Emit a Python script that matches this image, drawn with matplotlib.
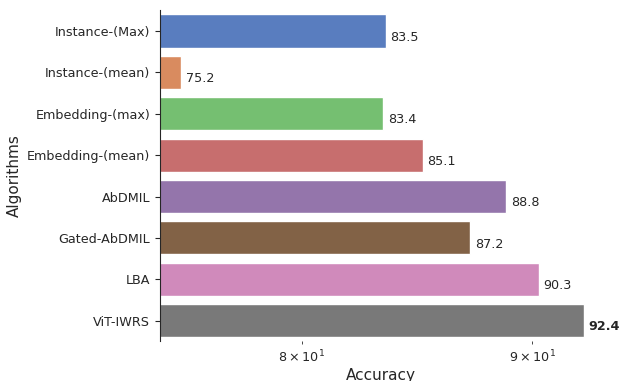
import matplotlib
matplotlib.use("Agg")
import matplotlib.pyplot as plt
import seaborn as sns

algorithms = ["Instance-(Max)", "Instance-(mean)", "Embedding-(max)", "Embedding-(mean)",
              "AbDMIL", "Gated-AbDMIL", "LBA", "ViT-IWRS"]
accuracy = [83.5, 75.2, 83.4, 85.1, 88.8, 87.2, 90.3, 92.4]

sns.set_style("ticks")
colors = [sns.desaturate(c, 0.75) for c in sns.color_palette("muted", len(algorithms))]

fig, ax = plt.subplots(figsize=(6.2, 3.81), dpi=100)
fig.subplots_adjust(left=0.258, right=0.97, bottom=0.104, top=0.973)

ax.barh(range(len(algorithms)), accuracy, height=0.8, color=colors,
        edgecolor="white", linewidth=1)
ax.set_xscale("log")
ax.set_xlim(74.4, 93.25)
ax.set_ylim(len(algorithms) - 0.5, -0.5)
ax.set_yticks(range(len(algorithms)))
ax.set_yticklabels(algorithms, fontsize=9.2, color="#262626")
ax.tick_params(axis="x", which="both", labelsize=9.2, colors="#262626")

# value labels next to each bar, best one in bold
best = max(accuracy)
for i, v in enumerate(accuracy):
    ax.text(v * 1.0025, i + 0.15, f"{v:.1f}", va="center", ha="left", fontsize=9.2,
            color="#262626", fontweight="bold" if v == best else "normal")

ax.set_xlabel("Accuracy", fontsize=11, color="#262626", labelpad=2)
ax.set_ylabel("Algorithms", fontsize=11, color="#262626")
sns.despine(ax=ax, bottom=True)

fig.savefig("out.png")
